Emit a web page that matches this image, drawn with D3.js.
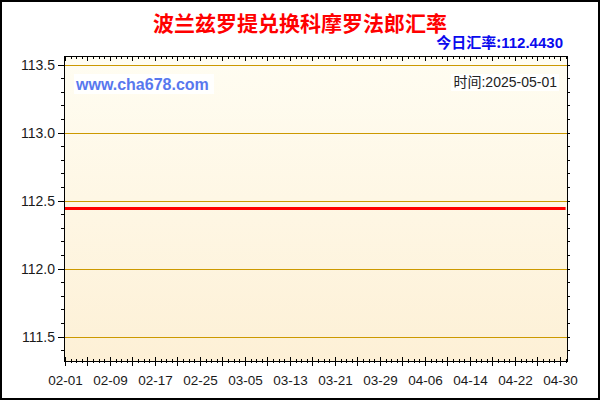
<!DOCTYPE html>
<html>
<head>
<meta charset="utf-8">
<script src="https://cdn.jsdelivr.net/npm/d3@7/dist/d3.min.js"></script>
<style>
  html, body { margin: 0; padding: 0; background: #fff; }
  svg { display: block; }
  text { font-family: "Liberation Sans", Arial, "Noto Sans CJK SC", sans-serif; }
</style>
</head>
<body>
<svg id="chart" width="600" height="400"></svg>
<script>
// ---- data ----
const titleText = "波兰兹罗提兑换科摩罗法郎汇率";
const todayLabel = "今日汇率:";
const todayRate = "112.4430";
const siteText = "www.cha678.com";
const timeText = "时间:2025-05-01";
const startDate = "2025-02-01";
const endDate = "2025-05-01";
// daily rates, 2025-02-01 .. 2025-05-01
const rates = [
  112.443,112.443,112.443,112.443,112.443,112.443,112.443,112.443,112.443,112.443,
  112.443,112.443,112.443,112.443,112.443,112.443,112.443,112.443,112.443,112.443,
  112.443,112.443,112.443,112.443,112.443,112.443,112.443,112.443,112.443,112.443,
  112.443,112.443,112.443,112.443,112.443,112.443,112.443,112.443,112.443,112.443,
  112.443,112.443,112.443,112.443,112.443,112.443,112.443,112.443,112.443,112.443,
  112.443,112.443,112.443,112.443,112.443,112.443,112.443,112.443,112.443,112.443,
  112.443,112.443,112.443,112.443,112.443,112.443,112.443,112.443,112.443,112.443,
  112.443,112.443,112.443,112.443,112.443,112.443,112.443,112.443,112.443,112.443,
  112.443,112.443,112.443,112.443,112.443,112.443,112.443,112.443,112.443,112.443
];
const xTickLabels = ["02-01","02-09","02-17","02-25","03-05","03-13","03-21","03-29","04-06","04-14","04-22","04-30"];
const yTickValues = [111.5, 112.0, 112.5, 113.0, 113.5];
const yDomain = [111.321, 113.564];

// ---- layout ----
const svg = d3.select("#chart");
const plot = { left: 64, right: 567, top: 56, bottom: 361 };
const parse = d3.utcParse("%Y-%m-%d");
const d0 = parse(startDate);
const dates = rates.map((_, i) => d3.utcDay.offset(d0, i));
const data = dates.map((d, i) => ({ date: d, value: rates[i] }));

const x = d3.scaleUtc().domain([d0, parse(endDate)]).range([65, 565.6]);
const y = d3.scaleLinear().domain(yDomain).range([plot.bottom, plot.top]);

// outer border
svg.append("rect").attr("x", 1).attr("y", 1).attr("width", 598).attr("height", 398)
  .attr("fill", "#fff").attr("stroke", "#000").attr("stroke-width", 2);

// plot background gradient
const defs = svg.append("defs");
const grad = defs.append("linearGradient").attr("id", "bg").attr("x1", 0).attr("y1", 0).attr("x2", 0).attr("y2", 1);
grad.append("stop").attr("offset", "0%").attr("stop-color", "#fffdf2");
grad.append("stop").attr("offset", "100%").attr("stop-color", "#fdf0d6");
svg.append("rect").attr("x", plot.left).attr("y", plot.top)
  .attr("width", plot.right - plot.left).attr("height", plot.bottom - plot.top)
  .attr("fill", "url(#bg)");

// gridlines (1px filled bars, goldenrod)
svg.append("g").selectAll("rect").data(yTickValues).join("rect")
  .attr("x", plot.left).attr("width", plot.right - plot.left)
  .attr("y", d => Math.round(y(d))).attr("height", 1)
  .attr("fill", "#cc9900")
  .attr("shape-rendering", "crispEdges");

// tick sets
const labelDates = xTickLabels.map(s => parse("2025-" + s));
const majorDates = d3.utcDay.range(d0, d3.utcDay.offset(parse(endDate), 1)).filter((d, i) => i % 4 === 0);
const minorDates = d3.utcDay.range(d0, d3.utcDay.offset(parse(endDate), 1));
const yMinor = d3.range(1114, 1136).map(v => v / 10).filter(v => v >= yDomain[0] && v <= yDomain[1]);

function styleAxis(g) {
  g.select(".domain").remove();
  g.selectAll(".tick line").attr("stroke", "#000").attr("shape-rendering", "crispEdges");
}

// bottom axis: ticks crossing the line
svg.append("g").attr("transform", `translate(0,${plot.bottom})`)
  .call(d3.axisBottom(x).tickValues(minorDates).tickSize(2).tickFormat(""))
  .call(styleAxis);
svg.append("g").attr("transform", `translate(0,${plot.bottom})`)
  .call(d3.axisTop(x).tickValues(minorDates).tickSize(2).tickFormat(""))
  .call(styleAxis);
svg.append("g").attr("transform", `translate(0,${plot.bottom})`)
  .call(d3.axisBottom(x).tickValues(majorDates).tickSize(5).tickFormat(""))
  .call(styleAxis);
svg.append("g").attr("transform", `translate(0,${plot.bottom})`)
  .call(d3.axisTop(x).tickValues(majorDates).tickSize(4).tickFormat(""))
  .call(styleAxis);
svg.append("g").attr("transform", `translate(0,${plot.bottom})`)
  .call(d3.axisBottom(x).tickValues(labelDates).tickSize(0).tickPadding(14)
    .tickFormat((d, i) => xTickLabels[i]))
  .call(g => { g.select(".domain").remove(); g.selectAll("text").attr("font-size", "13.5px").attr("fill", "#1a1a1a")
    .attr("font-family", "'Liberation Sans', Arial, sans-serif"); });

// top axis: ticks pointing down into the plot
svg.append("g").attr("transform", `translate(0,${plot.top})`)
  .call(d3.axisBottom(x).tickValues(minorDates).tickSize(3).tickFormat(""))
  .call(styleAxis);
svg.append("g").attr("transform", `translate(0,${plot.top})`)
  .call(d3.axisBottom(x).tickValues(majorDates).tickSize(5).tickFormat(""))
  .call(styleAxis);

// left axis
svg.append("g").attr("transform", `translate(${plot.left},0)`)
  .call(d3.axisLeft(y).tickValues(yMinor).tickSize(3).tickFormat(""))
  .call(styleAxis);
svg.append("g").attr("transform", `translate(${plot.left},0)`)
  .call(d3.axisLeft(y).tickValues(yTickValues).tickSize(6).tickPadding(3).tickFormat(d3.format(".1f")))
  .call(styleAxis)
  .call(g => g.selectAll("text").attr("font-size", "14px").attr("fill", "#1a1a1a")
    .attr("font-family", "'Liberation Sans', Arial, sans-serif"));

// right axis
svg.append("g").attr("transform", `translate(${plot.right},0)`)
  .call(d3.axisRight(y).tickValues(yMinor).tickSize(3).tickFormat(""))
  .call(styleAxis);

// frame
svg.append("rect").attr("x", plot.left + 0.5).attr("y", plot.top + 0.5)
  .attr("width", plot.right - plot.left).attr("height", plot.bottom - plot.top)
  .attr("fill", "none").attr("stroke", "#000").attr("stroke-width", 1)
  .attr("shape-rendering", "crispEdges");

// data line
const line = d3.line().x(d => x(d.date)).y(d => y(d.value));
svg.append("path").datum(data).attr("d", line)
  .attr("fill", "none").attr("stroke", "#ff0000").attr("stroke-width", 3);

// texts
svg.append("text").attr("x", 300).attr("y", 23).attr("text-anchor", "middle")
  .attr("dominant-baseline", "central")
  .attr("font-family", "'Noto Sans CJK SC', sans-serif").attr("font-weight", "bold")
  .attr("font-size", "21px").attr("fill", "#ff0000").text(titleText);

const today = svg.append("text").attr("x", 563).attr("y", 48).attr("text-anchor", "end")
  .attr("font-weight", "bold").attr("font-size", "15px").attr("fill", "#0a0aee");
today.append("tspan").attr("font-family", "'Noto Sans CJK SC', sans-serif").text(todayLabel);
today.append("tspan").attr("font-family", "'Liberation Sans', Arial, sans-serif").text(todayRate);

// site label with white backing
const siteG = svg.append("g");
siteG.append("rect").attr("x", 74).attr("y", 74).attr("width", 140).attr("height", 20).attr("fill", "#ffffff").attr("opacity", 0.9);
siteG.append("text").attr("x", 76).attr("y", 90)
  .attr("font-family", "'Liberation Sans', Arial, sans-serif").attr("font-weight", "bold")
  .attr("font-size", "16px").attr("fill", "#5878ee").text(siteText);

const timeG = svg.append("g");
timeG.append("rect").attr("x", 451).attr("y", 74).attr("width", 108).attr("height", 17).attr("fill", "#ffffff").attr("opacity", 0.9);
timeG.append("text").attr("x", 557).attr("y", 87).attr("text-anchor", "end")
  .attr("font-family", "'Liberation Sans', 'Noto Sans CJK SC', sans-serif")
  .attr("font-size", "14px").attr("fill", "#222").text(timeText);
</script>
</body>
</html>
